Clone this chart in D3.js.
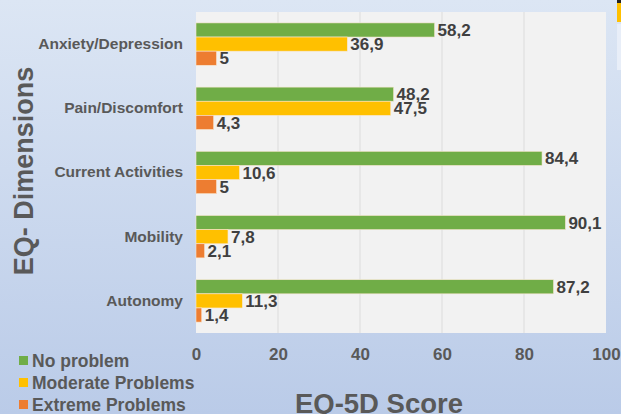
<!DOCTYPE html>
<html>
<head>
<meta charset="utf-8">
<script src="https://cdn.jsdelivr.net/npm/d3@7"></script>
<style>
  body { margin: 0; }
  text { font-family: "Liberation Sans", Arial, sans-serif; font-weight: bold; }
</style>
</head>
<body>
<div id="chart"></div>
<script>
// chart data
let dimensions = ["Anxiety/Depression", "Pain/Discomfort", "Current Activities", "Mobility", "Autonomy"]
let noProblem = [58.2, 48.2, 84.4, 90.1, 87.2]
let moderate = [36.9, 47.5, 10.6, 7.8, 11.3]
let extreme = [5, 4.3, 5, 2.1, 1.4]
let seriesNames = ["No problem", "Moderate Problems", "Extreme Problems"]
let xTicks = [0, 20, 40, 60, 80, 100]

let colors = ["#70ad47", "#ffc000", "#ed7d31"]
let W = 621, H = 414
let plot = {left: 196, right: 606, top: 12, bottom: 333}

let svg = d3.select("#chart").append("svg")
    .attr("width", W).attr("height", H)

let grad = svg.append("defs").append("linearGradient")
    .attr("id", "bg").attr("x1", 0).attr("y1", 0).attr("x2", 0).attr("y2", 1)
grad.append("stop").attr("offset", "0%").attr("stop-color", "#dce6f4")
grad.append("stop").attr("offset", "100%").attr("stop-color", "#bacbe8")

svg.append("rect").attr("width", W).attr("height", H).attr("fill", "url(#bg)")

// bit of the neighbouring table at the right edge
svg.append("rect").attr("x", 617).attr("y", 0).attr("width", 4).attr("height", 22).attr("fill", "#ffc000")
svg.append("rect").attr("x", 617).attr("y", 0).attr("width", 4).attr("height", 3).attr("fill", "#222")
svg.append("rect").attr("x", 617).attr("y", 24).attr("width", 4).attr("height", 46).attr("fill", "#e8eef8")

svg.append("rect")
    .attr("x", plot.left).attr("y", plot.top)
    .attr("width", plot.right - plot.left).attr("height", plot.bottom - plot.top)
    .attr("fill", "#f2f2f2")

let x = d3.scaleLinear().domain([0, 100]).range([plot.left, plot.right])
let y = d3.scaleBand().domain(dimensions).range([plot.top, plot.bottom]).paddingInner(0.34).paddingOuter(0.17)
let sub = d3.scaleBand().domain(seriesNames).range([0, y.bandwidth()])

// grid
svg.append("g").selectAll("line")
    .data(xTicks.slice(1, -1))
    .enter().append("line")
    .attr("x1", d => x(d)).attr("x2", d => x(d))
    .attr("y1", plot.top).attr("y2", plot.bottom)
    .attr("stroke", "#dcdcdc").attr("stroke-width", 1)

// x axis labels
let xAxis = svg.append("g")
    .attr("transform", "translate(0," + (plot.bottom + 15) + ")")
    .call(d3.axisBottom(x).tickValues(xTicks).tickSize(0).tickPadding(0))
xAxis.select(".domain").remove()
xAxis.selectAll("text")
    .attr("font-size", 17).attr("fill", "#595959")
    .style("font-family", "'Liberation Sans', Arial, sans-serif").style("font-weight", "bold")

// category labels
let yAxis = svg.append("g")
    .attr("transform", "translate(" + (plot.left - 13) + ",0)")
    .call(d3.axisLeft(y).tickSize(0).tickPadding(0))
yAxis.select(".domain").remove()
yAxis.selectAll("text")
    .attr("font-size", 15.5).attr("fill", "#595959")
    .style("font-family", "'Liberation Sans', Arial, sans-serif").style("font-weight", "bold")

let series = [noProblem, moderate, extreme]
let rows = []
dimensions.forEach(function(dim, i) {
    series.forEach(function(s, j) {
        rows.push({dim: dim, name: seriesNames[j], value: s[i], color: colors[j]})
    })
})

let barH = sub.bandwidth()
svg.append("g").selectAll("rect")
    .data(rows)
    .enter().append("rect")
    .attr("x", x(0))
    .attr("y", d => y(d.dim) + sub(d.name))
    .attr("width", d => x(d.value) - x(0))
    .attr("height", barH)
    .attr("fill", d => d.color)
    .attr("stroke", "#f8e6d0").attr("stroke-width", 0.6)

svg.append("g").selectAll("text")
    .data(rows)
    .enter().append("text")
    .attr("x", d => x(d.value) + 3)
    .attr("y", d => y(d.dim) + sub(d.name) + barH / 2)
    .attr("dy", "0.36em")
    .attr("font-size", 17).attr("fill", "#404040")
    .text(d => String(d.value).replace(".", ","))

// axis titles
svg.append("text")
    .attr("transform", "translate(33,171) rotate(-90)")
    .attr("text-anchor", "middle")
    .attr("font-size", 27).attr("fill", "#595959")
    .text("EQ- Dimensions")

svg.append("text")
    .attr("x", 379).attr("y", 413)
    .attr("text-anchor", "middle")
    .attr("font-size", 27.5).attr("fill", "#595959")
    .text("EQ-5D Score")

// legend
let legend = svg.append("g").selectAll("g")
    .data(seriesNames)
    .enter().append("g")
    .attr("transform", (d, i) => "translate(19," + (361 + i * 22) + ")")
legend.append("rect")
    .attr("x", 0).attr("y", -5).attr("width", 9).attr("height", 9)
    .attr("fill", (d, i) => colors[i])
legend.append("text")
    .attr("x", 13).attr("dy", "0.36em")
    .attr("font-size", 17.5).attr("fill", "#595959")
    .text(d => d)
</script>
</body>
</html>
